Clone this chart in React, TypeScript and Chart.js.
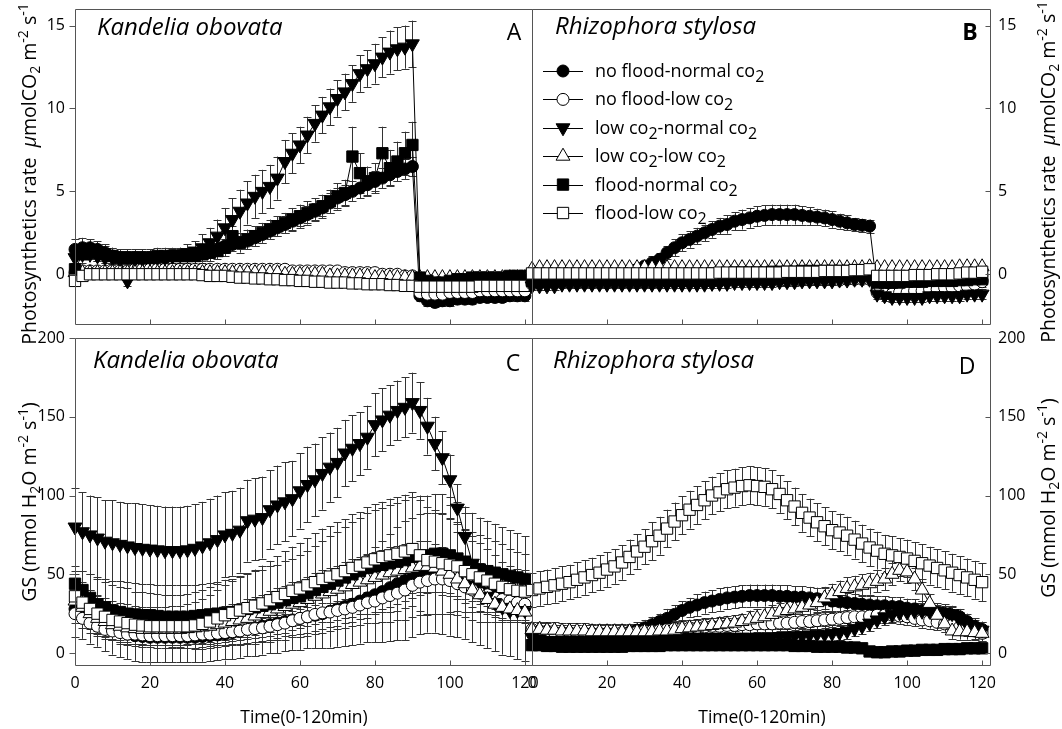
import React, { useEffect, useRef } from "react";
import { Chart, registerables } from "chart.js";

Chart.register(...registerables);

// ---------- data ----------
// Sampling times (min)
const TIME = [
  0, 2, 4, 6, 8, 10, 12, 14, 16, 18,
  20, 22, 24, 26, 28, 30, 32, 34, 36, 38,
  40, 42, 44, 46, 48, 50, 52, 54, 56, 58,
  60, 62, 64, 66, 68, 70, 72, 74, 76, 78,
  80, 82, 84, 86, 88, 90, 92, 94, 96, 98,
  100, 102, 104, 106, 108, 110, 112, 114, 116, 118, 120,
];

const TIME_TICKS = [0, 20, 40, 60, 80, 100, 120];
const PN_TICKS = [0, 5, 10, 15];
const GS_TICKS = [0, 50, 100, 150, 200];

const TREATMENTS = [
  "no flood-normal co2",
  "no flood-low co2",
  "low co2-normal co2",
  "low co2-low co2",
  "flood-normal co2",
  "flood-low co2",
];

// Kandelia obovata, photosynthetic rate
const koPnNoFloodNormal = [
  1.5, 1.6, 1.6, 1.5, 1.3, 1.1, 1.0, 1.0, 1.0, 1.0,
  1.0, 1.0, 1.0, 1.1, 1.1, 1.1, 1.2, 1.3, 1.4, 1.5,
  1.7, 1.8, 1.9, 2.0, 2.2, 2.4, 2.6, 2.8, 3.0, 3.2,
  3.4, 3.6, 3.8, 4.0, 4.3, 4.6, 4.8, 5.0, 5.2, 5.4,
  5.6, 5.8, 6.0, 6.2, 6.35, 6.5, -1.3, -1.6, -1.7, -1.6,
  -1.6, -1.5, -1.5, -1.5, -1.4, -1.4, -1.4, -1.4, -1.3, -1.3, -1.3,
];
const koPnNoFloodNormalSe = [
  0.6, 0.6, 0.5, 0.5, 0.5, 0.5, 0.4, 0.4, 0.4, 0.4,
  0.4, 0.4, 0.4, 0.4, 0.4, 0.4, 0.4, 0.4, 0.4, 0.4,
  0.4, 0.4, 0.4, 0.5, 0.5, 0.5, 0.5, 0.5, 0.5, 0.5,
  0.5, 0.5, 0.5, 0.5, 0.6, 0.6, 0.6, 0.6, 0.6, 0.6,
  0.6, 0.6, 0.6, 0.6, 0.6, 0.6, 0.3, 0.3, 0.3, 0.3,
  0.3, 0.3, 0.3, 0.3, 0.3, 0.3, 0.3, 0.3, 0.3, 0.3, 0.3,
];
const koPnNoFloodLow = [
  0.1, 0.2, 0.2, 0.2, 0.2, 0.2, 0.2, 0.2, 0.3, 0.3,
  0.3, 0.3, 0.3, 0.3, 0.3, 0.3, 0.3, 0.3, 0.3, 0.3,
  0.3, 0.3, 0.3, 0.3, 0.3, 0.3, 0.3, 0.3, 0.3, 0.2,
  0.2, 0.2, 0.2, 0.2, 0.2, 0.2, 0.1, 0.1, 0.1, 0.1,
  0.1, 0.0, 0.0, 0.0, -0.1, -0.1, -1.1, -1.2, -1.2, -1.2,
  -1.1, -1.1, -1.1, -1.1, -1.0, -1.0, -1.0, -1.0, -1.0, -1.0, -1.0,
];
const koPnNoFloodLowSe = [
  0.15, 0.15, 0.15, 0.15, 0.15, 0.15, 0.15, 0.15, 0.15, 0.15,
  0.15, 0.15, 0.15, 0.15, 0.15, 0.15, 0.15, 0.15, 0.15, 0.15,
  0.15, 0.15, 0.15, 0.15, 0.15, 0.15, 0.15, 0.15, 0.15, 0.15,
  0.15, 0.15, 0.15, 0.15, 0.15, 0.15, 0.15, 0.15, 0.15, 0.15,
  0.15, 0.15, 0.15, 0.15, 0.15, 0.15, 0.2, 0.2, 0.2, 0.2,
  0.2, 0.2, 0.2, 0.2, 0.2, 0.2, 0.2, 0.2, 0.2, 0.2, 0.2,
];
const koPnLowNormal = [
  1.0, 1.2, 1.2, 1.1, 1.0, 1.0, 0.9, -0.4, 0.9, 0.9,
  1.0, 1.0, 1.0, 1.1, 1.2, 1.3, 1.4, 1.6, 1.9, 2.3,
  2.8, 3.3, 3.8, 4.3, 4.7, 5.0, 5.3, 5.8, 6.8, 7.3,
  7.8, 8.4, 9.1, 9.6, 10.1, 10.6, 11.0, 11.5, 12.1, 12.4,
  12.7, 13.1, 13.4, 13.6, 13.7, 13.9, -0.2, -0.3, -0.4, -0.4,
  -0.4, -0.4, -0.3, -0.3, -0.3, -0.3, -0.3, -0.3, -0.3, -0.3, -0.3,
];
const koPnLowNormalSe = [
  0.3, 0.3, 0.3, 0.3, 0.3, 0.3, 0.3, 0.3, 0.3, 0.3,
  0.3, 0.3, 0.3, 0.3, 0.4, 0.5, 0.6, 0.8, 0.9, 1.0,
  1.2, 1.3, 1.3, 1.3, 1.3, 1.3, 1.3, 1.3, 1.3, 1.2,
  1.1, 1.1, 1.1, 1.1, 1.1, 1.1, 1.1, 1.1, 1.1, 1.1,
  1.2, 1.2, 1.3, 1.3, 1.3, 1.4, 0.3, 0.3, 0.3, 0.3,
  0.3, 0.3, 0.3, 0.3, 0.3, 0.3, 0.3, 0.3, 0.3, 0.3, 0.3,
];
const koPnLowLow = [
  0.1, 0.1, 0.1, 0.1, 0.1, 0.1, 0.1, 0.1, 0.1, 0.1,
  0.1, 0.1, 0.1, 0.1, 0.1, 0.1, 0.1, 0.1, 0.1, 0.1,
  0.1, 0.1, 0.1, 0.1, 0.1, 0.1, 0.1, 0.1, 0.0, 0.0,
  0.0, 0.0, 0.0, 0.0, -0.1, -0.1, -0.1, -0.1, -0.1, -0.1,
  -0.2, -0.2, -0.2, -0.2, -0.2, -0.2, -0.2, -0.2, -0.2, -0.2,
  -0.2, -0.2, -0.2, -0.2, -0.2, -0.2, -0.2, -0.2, -0.2, -0.2, -0.2,
];
const koPnLowLowSe = [
  0.1, 0.1, 0.1, 0.1, 0.1, 0.1, 0.1, 0.1, 0.1, 0.1,
  0.1, 0.1, 0.1, 0.1, 0.1, 0.1, 0.1, 0.1, 0.1, 0.1,
  0.1, 0.1, 0.1, 0.1, 0.1, 0.1, 0.1, 0.1, 0.1, 0.1,
  0.1, 0.1, 0.1, 0.1, 0.1, 0.1, 0.1, 0.1, 0.1, 0.1,
  0.1, 0.1, 0.1, 0.1, 0.1, 0.1, 0.1, 0.1, 0.1, 0.1,
  0.1, 0.1, 0.1, 0.1, 0.1, 0.1, 0.1, 0.1, 0.1, 0.1, 0.1,
];
const koPnFloodNormal = [
  0.3, 1.2, 1.4, 1.3, 1.2, 1.1, 1.0, 1.0, 1.0, 1.0,
  1.0, 1.1, 1.1, 1.1, 1.1, 1.1, 1.1, 1.2, 1.3, 1.4,
  1.6, 2.3, 1.9, 2.1, 2.3, 2.5, 2.7, 2.9, 3.1, 3.3,
  3.5, 3.7, 3.9, 4.1, 4.4, 4.7, 4.9, 7.1, 6.1, 5.6,
  5.8, 7.3, 6.4, 6.8, 7.3, 7.8, -0.2, -0.4, -0.5, -0.5,
  -0.4, -0.3, -0.3, -0.2, -0.2, -0.2, -0.2, -0.2, -0.1, -0.1, -0.1,
];
const koPnFloodNormalSe = [
  0.4, 0.5, 0.5, 0.5, 0.5, 0.5, 0.5, 0.5, 0.5, 0.5,
  0.5, 0.5, 0.5, 0.5, 0.5, 0.5, 0.5, 0.5, 0.5, 0.5,
  0.5, 0.6, 0.6, 0.6, 0.6, 0.6, 0.6, 0.6, 0.6, 0.7,
  0.7, 0.7, 0.7, 0.7, 0.7, 0.8, 0.8, 1.8, 1.2, 0.9,
  0.9, 1.6, 1.1, 1.2, 1.3, 1.4, 0.2, 0.2, 0.2, 0.2,
  0.2, 0.2, 0.2, 0.2, 0.2, 0.2, 0.2, 0.2, 0.2, 0.2, 0.2,
];
const koPnFloodLow = [
  -0.4, -0.1, 0.0, 0.0, 0.0, 0.0, 0.0, 0.0, 0.0, 0.0,
  0.0, 0.0, 0.0, 0.0, 0.0, 0.0, 0.0, -0.05, -0.1, -0.1,
  -0.1, -0.15, -0.2, -0.2, -0.25, -0.25, -0.3, -0.3, -0.35, -0.35,
  -0.4, -0.4, -0.45, -0.45, -0.5, -0.5, -0.5, -0.55, -0.55, -0.6,
  -0.6, -0.6, -0.65, -0.65, -0.7, -0.7, -0.75, -0.75, -0.75, -0.75,
  -0.75, -0.75, -0.75, -0.75, -0.7, -0.7, -0.7, -0.7, -0.7, -0.7, -0.7,
];
const koPnFloodLowSe = koPnLowLowSe;

// Rhizophora stylosa, photosynthetic rate
const rsPnNoFloodNormal = [
  -0.2, -0.2, -0.3, -0.3, -0.3, -0.3, -0.2, -0.2, -0.2, -0.1,
  -0.1, 0.0, 0.1, 0.2, 0.3, 0.5, 0.7, 0.9, 1.3, 1.6,
  1.9, 2.1, 2.3, 2.5, 2.7, 2.9, 3.0, 3.2, 3.3, 3.4,
  3.5, 3.55, 3.6, 3.6, 3.6, 3.6, 3.55, 3.5, 3.45, 3.4,
  3.3, 3.2, 3.1, 3.0, 2.95, 2.9, -0.9, -0.9, -0.8, -0.8,
  -0.8, -0.7, -0.7, -0.6, -0.6, -0.6, -0.5, -0.5, -0.4, -0.4, -0.35,
];
const rsPnNoFloodNormalSe = [
  0.2, 0.2, 0.2, 0.2, 0.2, 0.2, 0.2, 0.2, 0.2, 0.2,
  0.2, 0.2, 0.2, 0.3, 0.3, 0.3, 0.4, 0.4, 0.4, 0.5,
  0.5, 0.5, 0.5, 0.5, 0.5, 0.5, 0.55, 0.55, 0.6, 0.6,
  0.6, 0.6, 0.6, 0.6, 0.6, 0.6, 0.55, 0.55, 0.5, 0.5,
  0.5, 0.45, 0.45, 0.4, 0.4, 0.4, 0.3, 0.3, 0.3, 0.3,
  0.3, 0.3, 0.3, 0.3, 0.3, 0.3, 0.3, 0.3, 0.3, 0.3, 0.3,
];
const rsPnNoFloodLow = [
  -0.6, -0.5, -0.5, -0.5, -0.5, -0.5, -0.5, -0.5, -0.5, -0.5,
  -0.5, -0.5, -0.5, -0.5, -0.5, -0.5, -0.5, -0.5, -0.45, -0.45,
  -0.45, -0.45, -0.45, -0.45, -0.45, -0.4, -0.4, -0.4, -0.4, -0.4,
  -0.4, -0.4, -0.4, -0.4, -0.4, -0.4, -0.35, -0.35, -0.35, -0.35,
  -0.35, -0.35, -0.3, -0.3, -0.3, -0.3, -1.1, -1.2, -1.2, -1.1,
  -1.1, -1.0, -1.0, -0.9, -0.9, -0.8, -0.8, -0.7, -0.7, -0.6, -0.45,
];
const rsPnNoFloodLowSe = [
  0.2, 0.2, 0.2, 0.2, 0.2, 0.2, 0.2, 0.2, 0.2, 0.2,
  0.2, 0.2, 0.2, 0.2, 0.2, 0.2, 0.2, 0.2, 0.2, 0.2,
  0.2, 0.2, 0.2, 0.2, 0.2, 0.2, 0.2, 0.2, 0.2, 0.2,
  0.2, 0.2, 0.2, 0.2, 0.2, 0.2, 0.2, 0.2, 0.2, 0.2,
  0.2, 0.2, 0.2, 0.2, 0.2, 0.2, 0.3, 0.3, 0.3, 0.3,
  0.3, 0.3, 0.3, 0.3, 0.3, 0.3, 0.3, 0.3, 0.3, 0.3, 0.3,
];
const rsPnLowNormal = [
  -0.7, -0.7, -0.7, -0.7, -0.6, -0.6, -0.6, -0.6, -0.6, -0.6,
  -0.6, -0.6, -0.6, -0.6, -0.6, -0.6, -0.6, -0.6, -0.6, -0.6,
  -0.6, -0.6, -0.6, -0.6, -0.55, -0.55, -0.55, -0.5, -0.5, -0.5,
  -0.5, -0.5, -0.5, -0.45, -0.45, -0.45, -0.4, -0.4, -0.4, -0.4,
  -0.4, -0.35, -0.35, -0.3, -0.3, -0.3, -1.2, -1.3, -1.4, -1.4,
  -1.4, -1.4, -1.4, -1.3, -1.3, -1.3, -1.3, -1.3, -1.2, -1.2, -1.2,
];
const rsPnLowNormalSe = [
  0.25, 0.25, 0.25, 0.25, 0.25, 0.25, 0.25, 0.25, 0.25, 0.25,
  0.25, 0.25, 0.25, 0.25, 0.25, 0.25, 0.25, 0.25, 0.25, 0.25,
  0.25, 0.25, 0.25, 0.25, 0.25, 0.25, 0.25, 0.25, 0.25, 0.25,
  0.25, 0.25, 0.25, 0.25, 0.25, 0.25, 0.25, 0.25, 0.25, 0.25,
  0.25, 0.25, 0.25, 0.25, 0.25, 0.25, 0.3, 0.3, 0.3, 0.3,
  0.3, 0.3, 0.3, 0.3, 0.3, 0.3, 0.3, 0.3, 0.3, 0.3, 0.3,
];
const rsPnLowLow = [
  0.3, 0.4, 0.4, 0.4, 0.4, 0.4, 0.4, 0.4, 0.4, 0.4,
  0.4, 0.4, 0.4, 0.4, 0.4, 0.4, 0.4, 0.4, 0.4, 0.4,
  0.4, 0.4, 0.4, 0.4, 0.4, 0.4, 0.4, 0.4, 0.4, 0.4,
  0.4, 0.4, 0.4, 0.4, 0.4, 0.4, 0.4, 0.4, 0.4, 0.4,
  0.4, 0.4, 0.4, 0.4, 0.4, 0.45, 0.4, 0.4, 0.4, 0.4,
  0.4, 0.4, 0.4, 0.4, 0.4, 0.4, 0.4, 0.45, 0.45, 0.45, 0.45,
];
const rsPnLowLowSe = koPnLowLowSe;
const rsPnFloodNormal = [
  -0.4, -0.4, -0.35, -0.35, -0.35, -0.3, -0.3, -0.3, -0.3, -0.25,
  -0.25, -0.2, -0.2, -0.2, -0.15, -0.15, -0.1, -0.1, -0.1, -0.05,
  -0.05, 0.0, 0.0, 0.0, 0.05, 0.05, 0.05, 0.1, 0.1, 0.1,
  0.1, 0.1, 0.15, 0.15, 0.15, 0.15, 0.2, 0.2, 0.2, 0.2,
  0.2, 0.2, 0.2, 0.25, 0.25, 0.25, -0.5, -0.5, -0.5, -0.5,
  -0.45, -0.45, -0.45, -0.4, -0.4, -0.4, -0.4, -0.35, -0.35, -0.3, -0.3,
];
const rsPnFloodNormalSe = [
  0.15, 0.15, 0.15, 0.15, 0.15, 0.15, 0.15, 0.15, 0.15, 0.15,
  0.15, 0.15, 0.15, 0.15, 0.15, 0.15, 0.15, 0.15, 0.15, 0.15,
  0.15, 0.15, 0.15, 0.15, 0.15, 0.15, 0.15, 0.15, 0.15, 0.15,
  0.15, 0.15, 0.15, 0.15, 0.15, 0.15, 0.15, 0.15, 0.15, 0.15,
  0.15, 0.15, 0.15, 0.15, 0.15, 0.15, 0.15, 0.15, 0.15, 0.15,
  0.15, 0.15, 0.15, 0.15, 0.15, 0.15, 0.15, 0.15, 0.15, 0.15, 0.15,
];
const rsPnFloodLow = [
  0.05, 0.05, 0.05, 0.05, 0.05, 0.05, 0.05, 0.05, 0.05, 0.05,
  0.05, 0.05, 0.05, 0.05, 0.05, 0.05, 0.05, 0.05, 0.05, 0.05,
  0.05, 0.05, 0.05, 0.05, 0.05, 0.1, 0.1, 0.1, 0.1, 0.1,
  0.1, 0.1, 0.1, 0.1, 0.15, 0.15, 0.15, 0.15, 0.15, 0.2,
  0.2, 0.2, 0.2, 0.25, 0.25, 0.3, -0.1, -0.1, -0.1, -0.1,
  -0.1, -0.05, -0.05, -0.05, 0.0, 0.0, 0.0, 0.05, 0.1, 0.1, 0.15,
];
const rsPnFloodLowSe = koPnLowLowSe;

// Kandelia obovata, stomatal conductance
const koGsNoFloodNormal = [
  28, 26, 23, 20, 17, 15, 13.5, 12, 11, 10.5,
  10, 10, 10, 10, 10, 10, 10, 10.5, 11, 11.5,
  12, 13, 14, 15, 16, 17, 18, 19, 20, 21,
  22, 23, 24, 25, 26.5, 28, 29.5, 31, 33, 35,
  37, 39, 41.5, 44, 46, 48, 50, 51, 51, 50,
  48, 46, 44, 42, 40, 38, 36, 34, 32, 30, 29,
];
const koGsNoFloodNormalSe = [
  18, 17, 17, 16, 16, 16, 16, 16, 16, 16,
  16, 16, 16, 16, 16, 16, 16, 16, 16, 16,
  16, 17, 17, 17, 18, 18, 18, 19, 19, 19,
  20, 20, 21, 22, 23, 24, 25, 26, 27, 28,
  30, 32, 34, 36, 38, 38, 38, 38, 38, 38,
  37, 36, 35, 35, 35, 35, 35, 35, 34, 34, 34,
];
const koGsNoFloodLow = [
  25, 22, 19, 17, 15, 14, 13, 12, 12, 11.5,
  11, 11, 11, 11, 11, 11, 11.5, 12, 12, 12.5,
  13, 13.5, 14, 15, 15.5, 16, 17, 18, 19, 20.5,
  22, 23, 24.5, 25.5, 26, 27, 28, 29, 30.5, 32,
  33, 35, 36.5, 38, 40, 43, 45, 46, 47, 47,
  46, 44, 42, 40, 38, 37, 35, 34, 33, 32, 31,
];
const koGsNoFloodLowSe = [
  6, 6, 6, 6, 6, 6, 6, 6, 6, 6,
  6, 6, 6, 6, 6, 6, 6, 6, 6, 6,
  6, 6, 6, 6, 6, 6, 6, 6, 6, 6,
  6, 6, 6, 6, 6, 6, 6, 6, 6, 7,
  7, 7, 7, 7, 7, 8, 8, 8, 8, 8,
  8, 8, 8, 7, 7, 7, 7, 7, 7, 7, 7,
];
const koGsLowNormal = [
  80, 77, 75, 73, 71, 70, 69, 68, 67, 66.5,
  66, 65.5, 65, 65, 65, 65.5, 66.5, 68, 70, 72,
  75, 76, 78, 84, 85, 86, 91, 94, 96, 98,
  103, 107, 110, 114, 118, 121, 127, 130, 133, 137,
  145, 148, 151, 154, 156, 159, 154, 144, 133, 124,
  110, 92, 74, 57, 45, 36, 32, 29, 27, 27, 27,
];
const koGsLowNormalSe = [
  25, 25, 25, 26, 26, 27, 27, 27, 28, 28,
  28, 28, 28, 28, 28, 28, 28, 28, 28, 28,
  27, 27, 27, 26, 26, 26, 25, 25, 25, 24,
  24, 24, 23, 23, 22, 22, 21, 21, 20, 20,
  20, 20, 19, 19, 19, 19, 18, 18, 17, 17,
  16, 15, 15, 14, 12, 10, 8, 7, 6, 6, 6,
];
const koGsLowLow = [
  33, 29, 25, 22, 20, 18, 17, 16, 15.5, 15,
  15, 15, 15, 15, 15, 15.5, 16, 16.5, 17, 18,
  19, 20, 21, 22, 23.5, 25, 26.5, 28, 29.5, 31,
  32, 34, 36, 37.5, 39, 40.5, 42, 43.5, 45, 46.5,
  48, 49.5, 51, 52, 53, 54, 55, 55, 54, 52,
  50, 47, 44, 40, 37, 34, 31, 29, 28, 27, 26,
];
const koGsLowLowSe = [
  10, 10, 10, 10, 10, 10, 10, 10, 10, 10,
  10, 10, 10, 10, 10, 10, 10, 10, 10, 10,
  11, 11, 11, 12, 12, 12, 13, 13, 13, 14,
  14, 14, 15, 15, 15, 15, 16, 16, 16, 16,
  16, 16, 16, 16, 16, 16, 16, 16, 15, 15,
  14, 13, 12, 11, 10, 9, 8, 8, 7, 7, 7,
];
const koGsFloodNormal = [
  44, 40, 35, 31, 29, 27, 26, 25, 24.5, 24,
  24, 23.5, 23, 23, 23, 23, 23.5, 24, 24.5, 25,
  25.5, 26, 27, 28, 29, 30, 31, 32, 33.5, 35,
  36, 38, 40, 42, 44, 46, 48, 50, 52, 54,
  55, 56, 57, 58, 59, 61, 62, 62, 63, 63,
  62, 60, 58, 55, 53, 52, 51, 50, 49, 48, 47,
];
const koGsFloodNormalSe = [
  8, 12, 15, 17, 18, 19, 20, 20, 20, 20,
  20, 20, 20, 20, 20, 20, 20, 20, 20, 20,
  21, 21, 22, 22, 23, 23, 24, 24, 25, 25,
  26, 27, 28, 29, 30, 31, 32, 33, 34, 35,
  36, 36, 37, 37, 38, 38, 38, 38, 38, 38,
  37, 36, 35, 34, 33, 32, 31, 30, 29, 28, 27,
];
const koGsFloodLow = [
  36, 32, 28, 25, 23, 21, 20, 19, 18, 17.5,
  17, 17, 17, 17, 17, 17, 17.5, 18.5, 20, 22,
  24, 25.5, 27, 28.5, 30, 31.5, 33.5, 35.5, 37.5, 39.5,
  41, 43, 45, 47, 48.5, 50, 52, 54, 55.5, 57.5,
  59.5, 61, 62, 63, 64.5, 66, 62, 59, 58, 57,
  56, 55, 52, 50, 48, 46, 44, 42, 40.5, 39.5, 39,
];
const koGsFloodLowSe = [
  14, 13, 12, 12, 12, 12, 12, 12, 12, 12,
  12, 12, 12, 13, 13, 14, 15, 16, 17, 18,
  19, 20, 21, 22, 23, 24, 25, 26, 27, 28,
  29, 30, 31, 32, 32, 33, 33, 34, 34, 35,
  35, 35, 36, 36, 36, 36, 35, 34, 33, 32,
  30, 28, 26, 24, 22, 20, 18, 16, 15, 14, 14,
];

// Rhizophora stylosa, stomatal conductance
const rsGsNoFloodNormal = [
  14, 13, 12, 12, 11.5, 11, 11, 11, 11, 11,
  11, 11.5, 12, 13, 14.5, 16, 18, 20, 22, 24.5,
  27, 29, 30.5, 32, 33, 34, 35, 35.5, 36, 36.5,
  36.5, 36.5, 36.5, 36, 36, 35.5, 35.5, 35, 34.5, 34,
  33, 32.5, 32, 31.5, 31, 30.5, 30, 30, 29.5, 29.5,
  28.5, 28, 27, 26.5, 25.5, 25, 24, 23, 20, 17, 15,
];
const rsGsNoFloodNormalSe = [
  4, 4, 4, 4, 4, 4, 4, 4, 4, 4,
  4, 4, 4, 4, 5, 5, 5, 5, 6, 6,
  6, 6, 7, 7, 7, 7, 7, 7, 7, 7,
  7, 7, 7, 7, 7, 7, 7, 7, 7, 7,
  7, 7, 6, 6, 6, 6, 6, 6, 6, 6,
  6, 6, 6, 5, 5, 5, 5, 5, 5, 5, 5,
];
const rsGsNoFloodLow = [
  15, 14, 14, 13, 13, 13, 12.5, 12.5, 12.5, 12.5,
  12.5, 12.5, 13, 13, 13.5, 14, 14, 14.5, 15, 15.5,
  15.5, 16, 16, 16.5, 17, 17, 17.5, 17.5, 18, 18,
  18.5, 18.5, 18.5, 19, 19, 19.5, 20, 20, 20.5, 21,
  21.5, 22, 22.5, 23, 23, 23.5, 24, 24, 24, 23.5,
  23, 22, 21, 20.5, 19.5, 18.5, 17.5, 16.5, 15.5, 14, 12.5,
];
const rsGsNoFloodLowSe = [
  5, 5, 5, 5, 5, 5, 5, 5, 5, 5,
  5, 5, 5, 5, 5, 5, 5, 5, 5, 5,
  5, 5, 5, 5, 5, 5, 5, 5, 5, 5,
  5, 5, 5, 5, 5, 5, 5, 5, 5, 5,
  5, 5, 5, 5, 5, 5, 5, 5, 5, 5,
  5, 5, 5, 5, 5, 5, 5, 5, 5, 5, 5,
];
const rsGsLowNormal = [
  10, 9, 8, 8, 8, 8, 8, 8, 8, 8,
  8, 8, 8, 8.5, 9, 9, 9, 9, 9.5, 9.5,
  9.5, 10, 10, 10, 10, 10, 10, 10, 10, 10,
  10, 10, 10, 10.5, 10.5, 11, 11, 11.5, 12, 12,
  12.5, 13, 14, 15.5, 17, 19, 21, 23, 24.5, 25.5,
  26, 26.5, 26.5, 26.5, 26.5, 26, 25, 21, 18, 16, 14.5,
];
const rsGsLowNormalSe = rsGsNoFloodLowSe;
const rsGsLowLow = [
  15, 15, 14.5, 14.5, 14, 14, 14, 14, 13.5, 13.5,
  13.5, 13.5, 13.5, 13.5, 13.5, 13.5, 13.5, 14, 14, 14.5,
  15.5, 16, 16.5, 17, 17.5, 18, 18.5, 19, 20, 21,
  22, 23, 24.5, 26, 27, 28, 29, 30.5, 32, 35,
  37, 39, 41, 42, 43, 44, 45.5, 47, 50, 52.5,
  51.5, 47, 40, 31.5, 24, 18.5, 14, 13.5, 13.5, 13, 12.5,
];
const rsGsLowLowSe = [
  5, 5, 5, 5, 5, 5, 5, 5, 5, 5,
  5, 5, 5, 5, 5, 5, 5, 5, 5, 5,
  5, 5, 5, 5, 5, 5, 5, 5, 5, 6,
  6, 6, 6, 6, 6, 6, 6, 6, 6, 7,
  7, 7, 7, 7, 7, 7, 7, 7, 7, 7,
  7, 7, 7, 6, 6, 5, 5, 5, 5, 5, 5,
];
const rsGsFloodNormal = [
  5, 5, 4.5, 4.5, 4, 4, 4, 4, 4, 4,
  4, 4, 4, 4.5, 4.5, 4.5, 4.5, 4.5, 5, 5,
  5, 5, 5, 5, 5, 5, 5, 5, 5, 5,
  5, 5, 5, 5, 5, 4.5, 4.5, 4.5, 4, 4,
  4, 4, 3.5, 3.5, 3, 1, 0.5, 0.5, 1, 1,
  1.5, 1.5, 2, 2, 2, 2.5, 2.5, 2.5, 3, 3, 3,
];
const rsGsFloodNormalSe = [
  3, 3, 3, 3, 3, 3, 3, 3, 3, 3,
  3, 3, 3, 3, 3, 3, 3, 3, 3, 3,
  3, 3, 3, 3, 3, 3, 3, 3, 3, 3,
  3, 3, 3, 3, 3, 3, 3, 3, 3, 3,
  3, 3, 3, 3, 3, 3, 3, 3, 3, 3,
  3, 3, 3, 3, 3, 3, 3, 3, 3, 3, 3,
];
const rsGsFloodLow = [
  40, 41, 42, 43, 44, 45, 46.5, 48, 49.5, 51,
  53, 55, 57.5, 61, 64.5, 67.5, 71, 74.5, 79, 83.5,
  87.5, 91, 94, 97, 100, 102, 104, 105, 106, 106.5,
  106, 105.5, 104, 101, 97, 93, 89, 86, 83, 80.5,
  78, 76.5, 74.5, 72, 69.5, 67, 65, 63, 62, 61,
  60, 58.5, 57, 55.5, 54, 52.5, 51, 49.5, 48, 46.5, 45,
];
const rsGsFloodLowSe = [
  11, 11, 11, 11, 11, 11, 11, 11, 11, 11,
  11, 11, 11, 11, 11, 11, 12, 12, 12, 12,
  12, 12, 12, 12, 12, 12, 12, 12, 12, 12,
  12, 12, 12, 12, 12, 12, 12, 12, 12, 12,
  12, 12, 12, 12, 12, 12, 12, 12, 12, 12,
  12, 12, 12, 12, 12, 12, 12, 12, 12, 12, 12,
];

// ---------- styling & layout ----------
const FONT = '"Open Sans", "DejaVu Sans", sans-serif';
const FRAME = "#555";
const ERR = "#333";
const TICK_FONT_SIZE = 16;

type Marker = { pointStyle: string; radius: number; fill: string; rotation: number };
const MARKERS: Marker[] = [
  { pointStyle: "circle", radius: 6, fill: "#000", rotation: 0 },
  { pointStyle: "circle", radius: 6, fill: "#fff", rotation: 0 },
  { pointStyle: "triangle", radius: 8, fill: "#000", rotation: 180 },
  { pointStyle: "triangle", radius: 8, fill: "#fff", rotation: 0 },
  { pointStyle: "rect", radius: 8, fill: "#000", rotation: 0 },
  { pointStyle: "rect", radius: 8, fill: "#fff", rotation: 0 },
];

type Seg = { text: string; sub?: boolean; sup?: boolean; italic?: boolean; bold?: boolean };

const PN_TITLE: Seg[] = [
  { text: "Photosynthetics rate  " },
  { text: "\u03bc", italic: true },
  { text: "molCO" },
  { text: "2", sub: true },
  { text: " m" },
  { text: "-2", sup: true },
  { text: " s" },
  { text: "-1", sup: true },
];
const GS_TITLE: Seg[] = [
  { text: "GS (mmol H" },
  { text: "2", sub: true },
  { text: "O m" },
  { text: "-2", sup: true },
  { text: " s" },
  { text: "-1", sup: true },
  { text: ")" },
];

type Box = { left: number; top: number; width: number; height: number };
type Area = { left: number; top: number; right: number; bottom: number };
type PanelSpec = {
  canvas: Box;
  area: Area;
  xMax: number;
  yMin: number;
  yMax: number;
  yTicks: number[];
  ySide: "left" | "right";
  xLabels: boolean;
  series: number[][];
  errors: number[][];
  species: string;
  speciesAt: { x: number; y: number };
  letter: string;
  letterBold: boolean;
  letterAt: { x: number; y: number };
  yTitle: Seg[];
  yTitleAt: { x: number; y: number };
  xTitleAt?: { x: number; y: number };
  legendAt?: { x0: number; x1: number; tx: number; y0: number; dy: number };
};

const PANELS: PanelSpec[] = [
  {
    canvas: { left: 0, top: 0, width: 545, height: 352 },
    area: { left: 75, top: 9, right: 532, bottom: 338 },
    xMax: 121.9, yMin: -3, yMax: 16, yTicks: PN_TICKS, ySide: "left", xLabels: false,
    series: [koPnNoFloodNormal, koPnNoFloodLow, koPnLowNormal, koPnLowLow, koPnFloodNormal, koPnFloodLow],
    errors: [koPnNoFloodNormalSe, koPnNoFloodLowSe, koPnLowNormalSe, koPnLowLowSe, koPnFloodNormalSe, koPnFloodLowSe],
    species: "Kandelia obovata", speciesAt: { x: 97, y: 35 },
    letter: "A", letterBold: false, letterAt: { x: 514, y: 33 },
    yTitle: PN_TITLE, yTitleAt: { x: 36, y: 174 },
  },
  {
    canvas: { left: 515, top: 0, width: 547, height: 352 },
    area: { left: 532, top: 9, right: 990, bottom: 338 },
    xMax: 122.1, yMin: -3, yMax: 16, yTicks: PN_TICKS, ySide: "right", xLabels: false,
    series: [rsPnNoFloodNormal, rsPnNoFloodLow, rsPnLowNormal, rsPnLowLow, rsPnFloodNormal, rsPnFloodLow],
    errors: [rsPnNoFloodNormalSe, rsPnNoFloodLowSe, rsPnLowNormalSe, rsPnLowLowSe, rsPnFloodNormalSe, rsPnFloodLowSe],
    species: "Rhizophora stylosa", speciesAt: { x: 555, y: 34 },
    letter: "B", letterBold: true, letterAt: { x: 970, y: 33 },
    yTitle: PN_TITLE, yTitleAt: { x: 1055, y: 172 },
    legendAt: { x0: 543, x1: 583, tx: 595, y0: 71, dy: 28.4 },
  },
  {
    canvas: { left: 0, top: 320, width: 545, height: 409 },
    area: { left: 75, top: 338, right: 532, bottom: 665 },
    xMax: 121.9, yMin: -7.6, yMax: 200, yTicks: GS_TICKS, ySide: "left", xLabels: true,
    series: [koGsNoFloodNormal, koGsNoFloodLow, koGsLowNormal, koGsLowLow, koGsFloodNormal, koGsFloodLow],
    errors: [koGsNoFloodNormalSe, koGsNoFloodLowSe, koGsLowNormalSe, koGsLowLowSe, koGsFloodNormalSe, koGsFloodLowSe],
    species: "Kandelia obovata", speciesAt: { x: 93, y: 368 },
    letter: "C", letterBold: false, letterAt: { x: 513, y: 364 },
    yTitle: GS_TITLE, yTitleAt: { x: 36, y: 502 },
    xTitleAt: { x: 304, y: 718 },
  },
  {
    canvas: { left: 515, top: 320, width: 547, height: 409 },
    area: { left: 532, top: 338, right: 990, bottom: 665 },
    xMax: 122.1, yMin: -7.6, yMax: 200, yTicks: GS_TICKS, ySide: "right", xLabels: true,
    series: [rsGsNoFloodNormal, rsGsNoFloodLow, rsGsLowNormal, rsGsLowLow, rsGsFloodNormal, rsGsFloodLow],
    errors: [rsGsNoFloodNormalSe, rsGsNoFloodLowSe, rsGsLowNormalSe, rsGsLowLowSe, rsGsFloodNormalSe, rsGsFloodLowSe],
    species: "Rhizophora stylosa", speciesAt: { x: 553, y: 368 },
    letter: "D", letterBold: false, letterAt: { x: 967, y: 367 },
    yTitle: GS_TITLE, yTitleAt: { x: 1055, y: 498 },
    xTitleAt: { x: 762, y: 718 },
  },
];

// ---------- drawing helpers ----------
function segFont(s: Seg, size: number, small: number) {
  const sz = s.sub || s.sup ? small : size;
  return `${s.italic ? "italic " : ""}${s.bold ? "bold " : ""}${sz}px ${FONT}`;
}

function drawSegs(
  ctx: CanvasRenderingContext2D, segs: Seg[], x: number, y: number,
  size: number, small: number, subDy: number, supDy: number, align: "left" | "center"
) {
  const widths = segs.map((s) => {
    ctx.font = segFont(s, size, small);
    return ctx.measureText(s.text).width;
  });
  const total = widths.reduce((a, b) => a + b, 0);
  let cx = align === "center" ? x - total / 2 : x;
  ctx.textAlign = "left";
  ctx.textBaseline = "alphabetic";
  segs.forEach((s, i) => {
    ctx.font = segFont(s, size, small);
    const dy = s.sub ? subDy : s.sup ? -supDy : 0;
    ctx.fillText(s.text, cx, y + dy);
    cx += widths[i];
  });
}

function labelSegs(label: string): Seg[] {
  return label
    .split(/(co2)/)
    .filter((p) => p.length > 0)
    .flatMap((p) => (p === "co2" ? [{ text: "co" }, { text: "2", sub: true }] : [{ text: p }]));
}

function drawMarker(ctx: CanvasRenderingContext2D, m: Marker, x: number, y: number) {
  ctx.beginPath();
  if (m.pointStyle === "circle") {
    ctx.arc(x, y, m.radius, 0, Math.PI * 2);
  } else if (m.pointStyle === "rect") {
    const h = Math.SQRT1_2 * m.radius;
    ctx.rect(x - h, y - h, 2 * h, 2 * h);
  } else {
    let rad = (m.rotation * Math.PI) / 180;
    for (let k = 0; k < 3; k++) {
      const px = x + Math.sin(rad) * m.radius;
      const py = y - Math.cos(rad) * m.radius;
      if (k === 0) ctx.moveTo(px, py);
      else ctx.lineTo(px, py);
      rad += (2 * Math.PI) / 3;
    }
    ctx.closePath();
  }
  ctx.fillStyle = m.fill;
  ctx.fill();
  ctx.lineWidth = 1;
  ctx.strokeStyle = "#000";
  ctx.stroke();
}

function makePanelPlugin(spec: PanelSpec) {
  const ox = spec.canvas.left;
  const oy = spec.canvas.top;
  return {
    id: "panelDecor",
    beforeDatasetsDraw(chart: any) {
      const { ctx } = chart;
      const xs = chart.scales.x;
      const ys = chart.scales.y;
      ctx.save();
      ctx.strokeStyle = ERR;
      ctx.lineWidth = 1;
      chart.data.datasets.forEach((ds: any) => {
        const err: number[] = ds.errorBars;
        ds.data.forEach((p: any, k: number) => {
          const e = err[k];
          if (!e) return;
          const px = Math.round(xs.getPixelForValue(p.x)) + 0.5;
          const yTop = ys.getPixelForValue(p.y + e);
          const yBot = ys.getPixelForValue(p.y - e);
          ctx.beginPath();
          ctx.moveTo(px, yTop);
          ctx.lineTo(px, yBot);
          ctx.moveTo(px - 4, Math.round(yTop) + 0.5);
          ctx.lineTo(px + 4, Math.round(yTop) + 0.5);
          ctx.moveTo(px - 4, Math.round(yBot) + 0.5);
          ctx.lineTo(px + 4, Math.round(yBot) + 0.5);
          ctx.stroke();
        });
      });
      ctx.restore();
    },
    afterDraw(chart: any) {
      const { ctx, chartArea: a } = chart;
      const xs = chart.scales.x;
      const ys = chart.scales.y;
      const L = Math.round(a.left) + 0.5;
      const R = Math.round(a.right) + 0.5;
      const T = Math.round(a.top) + 0.5;
      const B = Math.round(a.bottom) + 0.5;
      ctx.save();
      // frame
      ctx.strokeStyle = FRAME;
      ctx.lineWidth = 1;
      ctx.beginPath();
      ctx.rect(L, T, R - L, B - T);
      ctx.stroke();
      // x tick marks, pointing inward
      ctx.beginPath();
      TIME_TICKS.forEach((v) => {
        if (v === 0) return;
        const px = Math.round(xs.getPixelForValue(v)) + 0.5;
        ctx.moveTo(px, B);
        ctx.lineTo(px, B - 5);
      });
      // y tick marks
      spec.yTicks.forEach((v) => {
        const py = Math.round(ys.getPixelForValue(v)) + 0.5;
        if (spec.ySide === "left") {
          ctx.moveTo(L - 6, py);
          ctx.lineTo(L, py);
        } else {
          ctx.moveTo(R - 5, py);
          ctx.lineTo(R, py);
        }
      });
      ctx.stroke();

      ctx.fillStyle = "#000";
      // species name
      ctx.font = `italic 24px ${FONT}`;
      ctx.textAlign = "left";
      ctx.textBaseline = "alphabetic";
      ctx.fillText(spec.species, spec.speciesAt.x - ox, spec.speciesAt.y - oy);
      // panel letter
      ctx.font = `${spec.letterBold ? "bold " : ""}23px ${FONT}`;
      ctx.textAlign = "center";
      ctx.textBaseline = "middle";
      ctx.fillText(spec.letter, spec.letterAt.x - ox, spec.letterAt.y - oy);

      // rotated y-axis title
      ctx.save();
      ctx.translate(spec.yTitleAt.x - ox, spec.yTitleAt.y - oy);
      ctx.rotate(-Math.PI / 2);
      drawSegs(ctx, spec.yTitle, 0, 0, 19.5, 14, 4, 8, "center");
      ctx.restore();

      // x-axis title
      if (spec.xTitleAt) {
        ctx.font = `17.5px ${FONT}`;
        ctx.textAlign = "center";
        ctx.textBaseline = "middle";
        ctx.fillText("Time(0-120min)", spec.xTitleAt.x - ox, spec.xTitleAt.y - oy);
      }

      // legend
      if (spec.legendAt) {
        const lg = spec.legendAt;
        TREATMENTS.forEach((label, i) => {
          const y = lg.y0 + i * lg.dy - oy;
          ctx.strokeStyle = "#000";
          ctx.lineWidth = 1;
          ctx.beginPath();
          ctx.moveTo(lg.x0 - ox, Math.round(y) + 0.5);
          ctx.lineTo(lg.x1 - ox, Math.round(y) + 0.5);
          ctx.stroke();
          drawMarker(ctx, MARKERS[i], (lg.x0 + lg.x1) / 2 - ox, y);
          ctx.fillStyle = "#000";
          drawSegs(ctx, labelSegs(label), lg.tx - ox, y + 6, 18, 16, 5, 0, "left");
        });
      }
      ctx.restore();
    },
  };
}

function buildConfig(spec: PanelSpec): any {
  const c = spec.canvas;
  const a = spec.area;
  const leftAxis = spec.ySide === "left";
  const padding = {
    left: leftAxis ? 0 : a.left - c.left,
    right: leftAxis ? c.left + c.width - a.right : 0,
    top: a.top - c.top,
    bottom: spec.xLabels ? 0 : c.top + c.height - a.bottom,
  };
  const yWidth = leftAxis ? a.left - c.left : c.left + c.width - a.right;
  const xHeight = c.top + c.height - a.bottom;

  const datasets = spec.series.map((vals, i) => {
    const m = MARKERS[i];
    return {
      label: TREATMENTS[i],
      data: TIME.map((t, k) => ({ x: t, y: vals[k] })),
      errorBars: spec.errors[i],
      borderColor: "#000",
      borderWidth: 1,
      pointStyle: m.pointStyle,
      pointRadius: m.radius,
      pointRotation: m.rotation,
      pointBackgroundColor: m.fill,
      pointBorderColor: "#000",
      pointBorderWidth: 1,
      tension: 0,
      fill: false,
      clip: false,
      order: 6 - i,
    };
  });

  return {
    type: "line",
    data: { datasets },
    options: {
      animation: false,
      responsive: false,
      events: [],
      layout: { padding },
      plugins: { legend: { display: false }, tooltip: { enabled: false } },
      scales: {
        x: {
          type: "linear",
          min: 0,
          max: spec.xMax,
          display: spec.xLabels,
          grid: { display: false, drawTicks: false },
          border: { display: false },
          ticks: { font: { family: FONT, size: TICK_FONT_SIZE }, color: "#000", padding: 9, autoSkip: false, maxRotation: 0 },
          afterBuildTicks: (s: any) => {
            s.ticks = TIME_TICKS.map((v) => ({ value: v }));
          },
          afterFit: (s: any) => {
            s.height = xHeight;
            s.paddingLeft = 0;
            s.paddingRight = 0;
          },
        },
        y: {
          type: "linear",
          position: spec.ySide,
          min: spec.yMin,
          max: spec.yMax,
          grid: { display: false, drawTicks: false },
          border: { display: false },
          ticks: { font: { family: FONT, size: TICK_FONT_SIZE }, color: "#000", padding: leftAxis ? 10 : 8 },
          afterBuildTicks: (s: any) => {
            s.ticks = spec.yTicks.map((v) => ({ value: v }));
          },
          afterFit: (s: any) => {
            s.width = yWidth;
            s.paddingTop = 0;
            s.paddingBottom = 0;
          },
        },
      },
    },
    plugins: [makePanelPlugin(spec)],
  };
}

function Panel({ spec }: { spec: PanelSpec }) {
  const ref = useRef<HTMLCanvasElement>(null);
  useEffect(() => {
    const chart = new Chart(ref.current as HTMLCanvasElement, buildConfig(spec));
    return () => chart.destroy();
  }, [spec]);
  const c = spec.canvas;
  return (
    <canvas
      ref={ref}
      width={c.width}
      height={c.height}
      style={{ position: "absolute", left: c.left, top: c.top, width: c.width, height: c.height, display: "block" }}
    />
  );
}

export default function App() {
  return (
    <div
      style={{
        position: "absolute",
        left: 0,
        top: 0,
        width: 1062,
        height: 729,
        background: "#fff",
        overflow: "hidden",
        fontFamily: FONT,
      }}
    >
      {PANELS.map((p, i) => (
        <Panel key={i} spec={p} />
      ))}
    </div>
  );
}
